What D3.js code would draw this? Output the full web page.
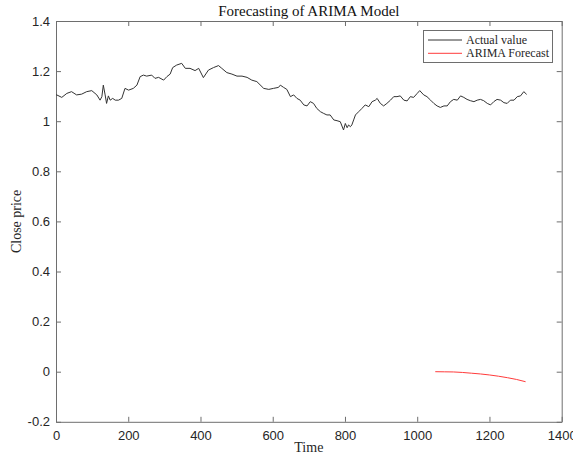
<!DOCTYPE html>
<html>
<head>
<meta charset="utf-8">
<script src="https://cdn.jsdelivr.net/npm/d3@7/dist/d3.min.js"></script>
<style>
  html, body { margin: 0; padding: 0; background: #fff; }
  svg { display: block; }
</style>
</head>
<body>
<svg id="chart" width="573" height="457"></svg>
<script>
// Observed closing price (time index, value)
const actualTime = [
  0, 2, 16, 30, 43, 57, 71, 85, 99, 113, 122, 127, 131, 136, 140, 145, 150, 157, 164, 173,
  182, 191, 201, 214, 224, 233, 242, 251, 265, 274, 284, 298, 307, 316, 323, 334, 348, 358,
  371, 385, 395, 408, 422, 436, 450, 459, 473, 487, 501, 515, 529, 542, 556, 575, 589, 602,
  616, 621, 630, 639, 649, 658, 667, 676, 686, 695, 704, 713, 722, 732, 741, 750, 759, 769,
  778, 787, 796, 801, 806, 810, 815, 819, 824, 829, 838, 847, 856, 866, 875, 884, 889, 898,
  907, 916, 926, 935, 944, 953, 963, 972, 981, 990, 1000, 1007, 1018, 1027, 1037, 1046, 1055,
  1064, 1074, 1083, 1092, 1101, 1111, 1120, 1129, 1138, 1147, 1157, 1166, 1175, 1184, 1194,
  1203, 1212, 1221, 1231, 1240, 1249, 1258, 1268, 1277, 1286, 1295, 1303
];
const actualValue = [
  1.105, 1.105, 1.095, 1.111, 1.118, 1.105, 1.108, 1.118, 1.122, 1.105, 1.084, 1.098, 1.144,
  1.105, 1.071, 1.101, 1.084, 1.091, 1.084, 1.084, 1.091, 1.131, 1.124, 1.131, 1.144, 1.178,
  1.184, 1.180, 1.184, 1.171, 1.175, 1.164, 1.178, 1.188, 1.214, 1.224, 1.231, 1.211, 1.211,
  1.202, 1.211, 1.174, 1.204, 1.214, 1.222, 1.211, 1.194, 1.188, 1.180, 1.180, 1.175, 1.164,
  1.158, 1.131, 1.127, 1.131, 1.135, 1.144, 1.135, 1.127, 1.098, 1.105, 1.091, 1.084, 1.065,
  1.061, 1.078, 1.071, 1.051, 1.038, 1.031, 1.025, 1.025, 1.005, 1.002, 0.998, 0.965, 0.991,
  0.974, 0.985, 0.978, 0.985, 1.005, 1.025, 1.038, 1.051, 1.065, 1.058, 1.078, 1.084, 1.091,
  1.071, 1.061, 1.071, 1.084, 1.098, 1.098, 1.101, 1.084, 1.081, 1.098, 1.095, 1.111, 1.122,
  1.105, 1.098, 1.084, 1.071, 1.061, 1.055, 1.061, 1.061, 1.078, 1.087, 1.084, 1.101, 1.095,
  1.087, 1.082, 1.078, 1.084, 1.087, 1.082, 1.071, 1.065, 1.078, 1.087, 1.084, 1.074, 1.071,
  1.084, 1.084, 1.098, 1.101, 1.118, 1.107
];

// ARIMA forecast over the hold-out window
const forecastTime = [1050, 1075, 1100, 1125, 1150, 1175, 1200, 1225, 1250, 1275, 1300];
const forecastValue = [0.000, -0.0005, -0.001, -0.003, -0.006, -0.009, -0.013, -0.018, -0.024, -0.031, -0.040];

// Axis ticks
const xTicks = [0, 200, 400, 600, 800, 1000, 1200, 1400];
const xTickLabels = ["0", "200", "400", "600", "800", "1000", "1200", "1400"];
const yTicks = [-0.2, 0, 0.2, 0.4, 0.6, 0.8, 1.0, 1.2, 1.4];
const yTickLabels = ["-0.2", "0", "0.2", "0.4", "0.6", "0.8", "1", "1.2", "1.4"];

const seriesNames = ["Actual value", "ARIMA Forecast"];
const seriesColors = ["#333333", "#ff3b3b"];

const svg = d3.select("#chart");
const plotLeft = 56, plotRight = 561.7, plotTop = 21, plotBottom = 421.8;

const x = d3.scaleLinear().domain([0, 1400]).range([plotLeft, plotRight]);
const y = d3.scaleLinear().domain([-0.2, 1.4]).range([plotBottom, plotTop]);

const axisColor = "#6e6e6e";
const textColor = "#262626";
const sans = "'Liberation Sans', Arial, Helvetica, sans-serif";
const serif = "'Liberation Serif', 'Times New Roman', Times, serif";

function styleAxis(g, showText) {
  g.select(".domain").attr("stroke", axisColor).attr("stroke-width", 1);
  g.selectAll(".tick line").attr("stroke", axisColor).attr("stroke-width", 1);
  g.selectAll(".tick text")
    .attr("fill", textColor)
    .style("font-family", sans)
    .style("font-size", "13px")
    .style("display", showText ? null : "none");
}

// Bottom / top (ticks point inward, box style)
svg.append("g")
  .attr("transform", `translate(0,${plotBottom})`)
  .call(d3.axisBottom(x).tickValues(xTicks)
    .tickFormat((d, i) => xTickLabels[i])
    .tickSizeInner(-5).tickSizeOuter(0).tickPadding(9))
  .call(g => styleAxis(g, true));

svg.append("g")
  .attr("transform", `translate(0,${plotTop})`)
  .call(d3.axisTop(x).tickValues(xTicks)
    .tickSizeInner(-5).tickSizeOuter(0))
  .call(g => styleAxis(g, false));

// Left / right
svg.append("g")
  .attr("transform", `translate(${plotLeft},0)`)
  .call(d3.axisLeft(y).tickValues(yTicks)
    .tickFormat((d, i) => yTickLabels[i])
    .tickSizeInner(-5).tickSizeOuter(0).tickPadding(6))
  .call(g => styleAxis(g, true));

svg.append("g")
  .attr("transform", `translate(${plotRight},0)`)
  .call(d3.axisRight(y).tickValues(yTicks)
    .tickSizeInner(-5).tickSizeOuter(0))
  .call(g => styleAxis(g, false));

// Series
const actual = actualTime.map((t, i) => [t, actualValue[i]]);
const forecast = forecastTime.map((t, i) => [t, forecastValue[i]]);
const line = d3.line().x(d => x(d[0])).y(d => y(d[1]));

svg.append("path")
  .datum(actual)
  .attr("d", line)
  .attr("fill", "none")
  .attr("stroke", seriesColors[0])
  .attr("stroke-width", 1)
  .attr("stroke-linejoin", "round");

svg.append("path")
  .datum(forecast)
  .attr("d", line.curve(d3.curveMonotoneX))
  .attr("fill", "none")
  .attr("stroke", seriesColors[1])
  .attr("stroke-width", 1);

// Title and axis labels
svg.append("text")
  .attr("x", (plotLeft + plotRight) / 2).attr("y", 16)
  .attr("text-anchor", "middle")
  .attr("fill", "#111")
  .style("font-family", serif).style("font-size", "15px")
  .text("Forecasting of ARIMA Model");

svg.append("text")
  .attr("x", (plotLeft + plotRight) / 2).attr("y", 452)
  .attr("text-anchor", "middle")
  .attr("fill", textColor)
  .style("font-family", serif).style("font-size", "14px")
  .text("Time");

svg.append("text")
  .attr("transform", `translate(21,${(plotTop + plotBottom) / 2}) rotate(-90)`)
  .attr("text-anchor", "middle")
  .attr("fill", textColor)
  .style("font-family", serif).style("font-size", "14px")
  .text("Close price");

// Legend
const lg = svg.append("g");
lg.append("rect")
  .attr("x", 423.5).attr("y", 30.5).attr("width", 129).attr("height", 32)
  .attr("fill", "#fff").attr("stroke", axisColor).attr("stroke-width", 1);
seriesNames.forEach((name, i) => {
  const ly = 40 + i * 13.3;
  lg.append("line")
    .attr("x1", 428).attr("x2", 462).attr("y1", ly).attr("y2", ly)
    .attr("stroke", seriesColors[i]).attr("stroke-width", 1);
  lg.append("text")
    .attr("x", 466).attr("y", ly + 4)
    .attr("fill", textColor)
    .style("font-family", serif).style("font-size", "12px")
    .text(name);
});
</script>
</body>
</html>
